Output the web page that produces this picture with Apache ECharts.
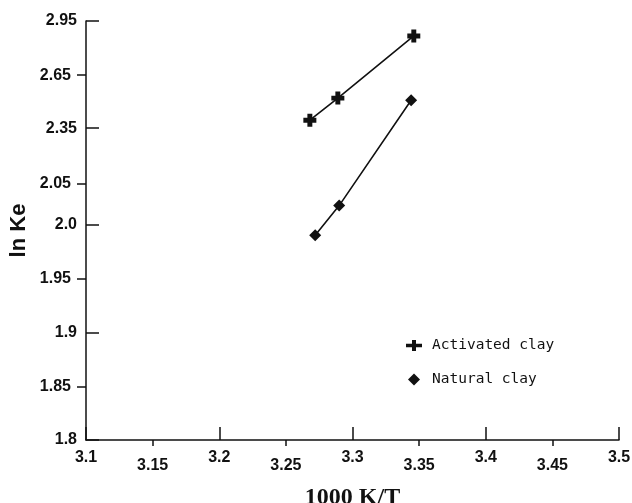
<!DOCTYPE html>
<html>
<head>
<meta charset="utf-8">
<script src="https://cdn.jsdelivr.net/npm/echarts@6/dist/echarts.min.js"></script>
<style>
  html, body { margin: 0; padding: 0; background: #fff; }
  #chart { width: 632px; height: 503px; }
</style>
</head>
<body>
<div id="chart"></div>
<script>
// x axis ticks (1000 K/T)
const xUpperTicks = [3.1, 3.2, 3.3, 3.4, 3.5];
const xLowerTicks = [3.15, 3.25, 3.35, 3.45];

// y axis ticks (ln Ke) - the original axis is not linear
const yTickValues = [1.8, 1.85, 1.9, 1.95, 2.0, 2.05, 2.35, 2.65, 2.95];
const yTickLabels = ["1.8", "1.85", "1.9", "1.95", "2.0", "2.05", "2.35", "2.65", "2.95"];
const yTickSlots = [0, 0.98, 1.98, 2.98, 3.98, 4.74, 5.76, 6.74, 7.74];
const yInside = [1.8, 1.9, 2.0, 2.35, 2.95];
const yOutside = [1.85, 1.95, 2.05, 2.65];

// data
const activatedX = [3.268, 3.289, 3.346];
const activatedY = [2.395, 2.52, 2.867];
const naturalX = [3.272, 3.290, 3.344];
const naturalY = [1.99, 2.023, 2.508];

// map ln Ke onto the axis' own (piecewise) scale
function toSlot(v) {
  for (let i = 0; i < yTickValues.length - 1; i++) {
    const a = yTickValues[i], b = yTickValues[i + 1];
    if (v <= b || i === yTickValues.length - 2) {
      return yTickSlots[i] + (v - a) / (b - a) * (yTickSlots[i + 1] - yTickSlots[i]);
    }
  }
  return 0;
}
function slotLabel(v) {
  const i = yTickSlots.findIndex(s => Math.abs(s - v) < 1e-6);
  return i >= 0 ? yTickLabels[i] : "";
}
const slotsOf = vals => vals.map(v => yTickSlots[yTickValues.indexOf(v)]);

const plusPath = "path://M3.1,0H6.9V3.1H10V6.9H6.9V10H3.1V6.9H0V3.1H3.1Z";
const plusLegend = "path://M6,0H10V3.8H16V7.2H10V11H6V7.2H0V3.8H6Z";
const diamondLegend = "path://M5,0L10,5L5,10L0,5Z";
const ink = "#111";
const labelFont = { color: ink, fontFamily: "Liberation Sans, Arial, sans-serif", fontWeight: "bold" };

const chart = echarts.init(document.getElementById("chart"), null, { renderer: "canvas" });

const option = {
  backgroundColor: "#fff",
  animation: false,
  grid: { left: 86, right: 13, top: 21, bottom: 63, containLabel: false, outerBoundsMode: "none" },
  legend: {
    orient: "vertical",
    left: 401,
    top: 333,
    itemWidth: 16,
    itemHeight: 12,
    itemGap: 19,
    textStyle: { color: ink, fontFamily: "DejaVu Sans Mono, monospace", fontSize: 14.5, padding: [0, 0, 0, 5] },
    data: [
      { name: "Activated clay", icon: plusLegend },
      { name: "Natural clay", icon: diamondLegend }
    ]
  },
  xAxis: [
    {
      type: "value", min: 3.1, max: 3.5, position: "bottom",
      name: "1000 K/T", nameLocation: "middle", nameGap: 46,
      nameTextStyle: { color: ink, fontFamily: "Liberation Serif, Times New Roman, serif", fontWeight: "bold", fontSize: 24 },
      axisLine: { show: true, lineStyle: { color: ink, width: 1.5 } },
      axisTick: { show: true, inside: true, length: 13, customValues: xUpperTicks, lineStyle: { color: ink, width: 1.5 } },
      axisLabel: Object.assign({ customValues: xUpperTicks, fontSize: 16, margin: 10, formatter: v => String(+v.toFixed(2)) }, labelFont),
      splitLine: { show: false }
    },
    {
      type: "value", min: 3.1, max: 3.5, position: "bottom",
      axisLine: { show: false },
      axisTick: { show: true, inside: false, length: 6, customValues: xLowerTicks, lineStyle: { color: ink, width: 1.5 } },
      axisLabel: Object.assign({ customValues: xLowerTicks, fontSize: 16, margin: 18, formatter: v => String(+v.toFixed(2)) }, labelFont),
      splitLine: { show: false }
    }
  ],
  yAxis: [
    {
      type: "value", min: 0, max: yTickSlots[yTickSlots.length - 1], position: "left",
      name: "ln Ke", nameLocation: "middle", nameGap: 56,
      nameTextStyle: { color: ink, fontFamily: "Liberation Sans, Arial, sans-serif", fontWeight: "bold", fontSize: 22 },
      axisLine: { show: true, lineStyle: { color: ink, width: 1.5 } },
      axisTick: { show: true, inside: true, length: 13, customValues: slotsOf(yInside), lineStyle: { color: ink, width: 1.5 } },
      axisLabel: Object.assign({ customValues: slotsOf(yInside), fontSize: 16, margin: 9, formatter: slotLabel }, labelFont),
      splitLine: { show: false }
    },
    {
      type: "value", min: 0, max: yTickSlots[yTickSlots.length - 1], position: "left",
      axisLine: { show: false },
      axisTick: { show: true, inside: false, length: 9, customValues: slotsOf(yOutside), lineStyle: { color: ink, width: 1.5 } },
      axisLabel: Object.assign({ customValues: slotsOf(yOutside), fontSize: 16, margin: 15, formatter: slotLabel }, labelFont),
      splitLine: { show: false }
    }
  ],
  series: [
    {
      name: "Activated clay",
      type: "line",
      xAxisIndex: 0, yAxisIndex: 0,
      data: activatedX.map((x, i) => [x, toSlot(activatedY[i])]),
      symbol: plusPath,
      symbolSize: 13,
      itemStyle: { color: ink },
      lineStyle: { color: ink, width: 1.6 }
    },
    {
      name: "Natural clay",
      type: "line",
      xAxisIndex: 0, yAxisIndex: 0,
      data: naturalX.map((x, i) => [x, toSlot(naturalY[i])]),
      symbol: "diamond",
      symbolSize: 12,
      itemStyle: { color: ink },
      lineStyle: { color: ink, width: 1.6 }
    }
  ]
};

chart.setOption(option);
</script>
</body>
</html>
